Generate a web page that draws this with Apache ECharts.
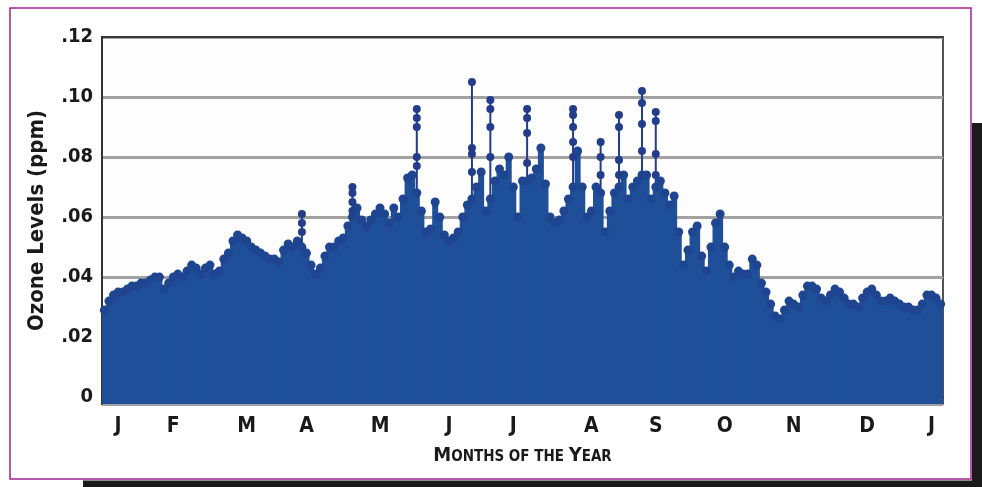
<!DOCTYPE html>
<html><head><meta charset="utf-8">
<script src="https://cdn.jsdelivr.net/npm/echarts@6/dist/echarts.min.js"></script>
<style>html,body{margin:0;padding:0;background:#fff}#c{width:982px;height:487px}</style>
</head><body><div id="c"></div>
<script>
// Month tick labels and the sample (2-day step) they sit at
const monthLabels = ['J','F','M','A','M','J','J','A','S','O','N','D','J'];
const monthLabelSamples = [3,15,31,44,60,75,89,106,120,135,150,166,180];

// Upper envelope of the readings, one value per ~2 days (ppm)
const envelope = [
  .029,.032,.034,.035,.035,.036,.037,.037,.038,.038,
  .039,.040,.040,.036,.038,.040,.041,.040,.042,.044,
  .043,.041,.043,.044,.041,.042,.046,.048,.052,.054,
  .053,.052,.050,.049,.048,.047,.046,.046,.045,.049,
  .051,.050,.052,.050,.048,.044,.041,.043,.047,.050,
  .050,.052,.053,.057,.060,.063,.059,.057,.059,.061,
  .063,.061,.058,.063,.060,.066,.073,.074,.068,.062,
  .055,.056,.065,.060,.054,.052,.053,.055,.060,.064,
  .066,.070,.075,.062,.066,.072,.076,.074,.080,.070,
  .060,.072,.072,.073,.076,.083,.071,.060,.058,.059,
  .062,.066,.070,.082,.070,.060,.062,.070,.068,.055,
  .062,.068,.070,.074,.066,.070,.072,.074,.074,.066,
  .070,.072,.068,.064,.067,.055,.044,.049,.055,.057,
  .047,.042,.050,.058,.061,.050,.044,.040,.042,.041,
  .041,.046,.044,.038,.035,.031,.027,.026,.029,.032,
  .031,.030,.034,.037,.037,.036,.033,.032,.034,.036,
  .035,.033,.031,.031,.030,.033,.035,.036,.034,.032,
  .032,.033,.032,.031,.030,.030,.029,.029,.031,.034,
  .034,.033,.031
];

// Tall isolated spikes: sample index, top value, and the readings drawn as dots along them
const spikeSamples = [43, 54, 68, 80, 84, 92, 102, 108, 112, 117, 120];
const spikeTops    = [.061, .070, .096, .105, .099, .096, .096, .085, .094, .102, .095];
const spikeDots = [
  [.061,.058,.055],
  [.070,.068,.065,.062],
  [.096,.093,.090,.080,.077],
  [.105,.083,.081,.075],
  [.099,.096,.090,.080],
  [.096,.093,.088,.078],
  [.096,.094,.090,.085,.080],
  [.085,.080,.074],
  [.094,.090,.079,.074],
  [.102,.098,.091,.082],
  [.095,.092,.081,.074]
];

const categories = envelope.map((_, i) => {
  const k = monthLabelSamples.indexOf(i);
  return k >= 0 ? monthLabels[k] : '';
});
const spikeSeries = envelope.map(() => null);
spikeSamples.forEach((s, k) => { spikeSeries[s] = spikeTops[k]; });
const topDots = envelope.map((v, i) => [i, v]);
const spikeDotData = [];
spikeSamples.forEach((s, k) => spikeDots[k].forEach(v => spikeDotData.push([s, v])));

const FONT = "'Liberation Sans Narrow','DejaVu Sans Condensed','Liberation Sans',sans-serif";
const BLUE = '#1e4f98';
const DOT = '#1f4591';
const SPIKE = '#243d8a';

const chart = echarts.init(document.getElementById('c'), null, {renderer: 'canvas'});
chart.setOption({
  animation: false,
  backgroundColor: '#fff',
  grid: {left: 102, right: 39, top: 37, bottom: 83, show: true,
         borderColor: '#1a1a1a', borderWidth: 1.5, backgroundColor: '#fdfdfd'},
  xAxis: [{
    type: 'category', data: categories, boundaryGap: true,
    axisTick: {show: false},
    axisLine: {show: true, lineStyle: {color: '#222', width: 1.5}},
    axisLabel: {interval: 0, margin: 12, color: '#1a1a1a', fontFamily: FONT,
                fontWeight: 'bold', fontSize: 21},
    splitLine: {show: false},
    name: '{b|M}{s|ONTHS OF THE }{b|Y}{s|EAR}',
    nameLocation: 'middle', nameGap: 42,
    nameTextStyle: {rich: {
      b: {fontFamily: FONT, fontWeight: 'bold', fontSize: 20, color: '#1a1a1a'},
      s: {fontFamily: FONT, fontWeight: 'bold', fontSize: 15, color: '#1a1a1a', padding: [3,0,0,0]}
    }}
  }, {
    type: 'category', data: categories, boundaryGap: true, position: 'top',
    axisTick: {show: false}, axisLabel: {show: false}, splitLine: {show: false},
    axisLine: {show: true, lineStyle: {color: '#1a1a1a', width: 1.5}}
  }],
  yAxis: {
    type: 'value', min: -0.0023, max: 0.12, splitNumber: 6, startValue: -0.0023,
    axisLine: {show: true, lineStyle: {color: '#333', width: 2}},
    axisTick: {show: false},
    axisLabel: {margin: 9, color: '#1a1a1a', fontFamily: FONT, fontWeight: 'bold', fontSize: 20,
      formatter: v => v < -1e-9 ? '' : (Math.abs(v) < 1e-9 ? '0' : '.' + String(Math.round(v * 100)).padStart(2, '0'))},
    splitLine: {show: true, lineStyle: {color: '#a2a2a2', width: 3}},
    name: 'Ozone Levels (ppm)', nameLocation: 'middle', nameGap: 54, nameRotate: 90,
    nameTextStyle: {fontFamily: FONT, fontWeight: 'bold', fontSize: 22, color: '#1a1a1a'}
  },
  series: [{
    type: 'bar', xAxisIndex: 1, data: spikeSeries, barWidth: 2,
    itemStyle: {color: SPIKE}, silent: true
  }, {
    type: 'bar', data: envelope, barWidth: 6,
    itemStyle: {color: BLUE}, silent: true
  }, {
    type: 'scatter', data: topDots, symbol: 'circle', symbolSize: 9,
    itemStyle: {color: DOT, opacity: 1}, silent: true
  }, {
    type: 'scatter', data: spikeDotData, symbol: 'circle', symbolSize: 8,
    itemStyle: {color: SPIKE, opacity: 1}, silent: true
  }],
  graphic: [
    {type: 'rect', shape: {x: 10, y: 8, width: 961, height: 471},
     style: {fill: null, stroke: '#a3218f', lineWidth: 1.5}, silent: true},
    {type: 'rect', shape: {x: 972, y: 123, width: 10, height: 364}, style: {fill: '#1a1a1a'}, silent: true},
    {type: 'rect', shape: {x: 83, y: 480.5, width: 899, height: 7}, style: {fill: '#1a1a1a'}, silent: true}
  ]
});
</script>
</body></html>
